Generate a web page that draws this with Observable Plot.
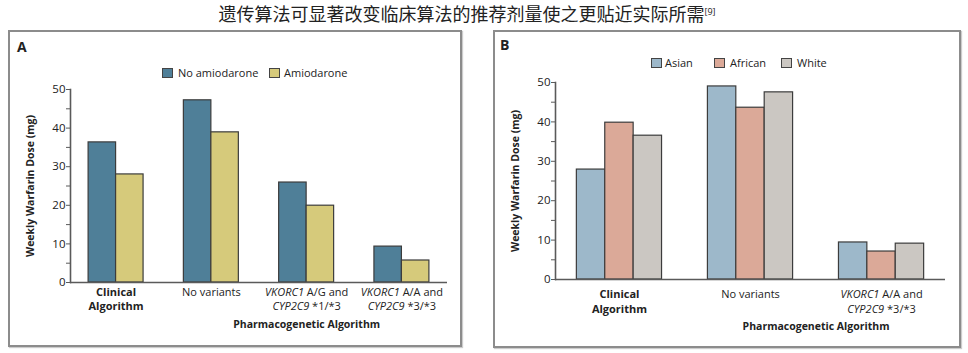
<!DOCTYPE html>
<html><head><meta charset="utf-8">
<script src="https://cdn.jsdelivr.net/npm/d3@7"></script>
<script src="https://cdn.jsdelivr.net/npm/@observablehq/plot@0.6"></script>
<style>
body{margin:0;width:968px;height:353px;position:relative;background:#fff;font-family:"Open Sans",sans-serif;overflow:hidden;color:#222}
.title{position:absolute;left:-17px;top:2px;width:968px;text-align:center;font-family:"Noto Sans CJK SC";font-size:18px;line-height:19px;color:#222}
.title sup{font-size:9px;font-family:"Open Sans";vertical-align:6px}
.box{position:absolute;border:2px solid #8c8c8c;box-sizing:border-box;box-shadow:1px 1px 1px #ccc}
.letter{position:absolute;font-weight:bold;font-size:14px;line-height:14px}
.lg{position:absolute;font-size:11px;line-height:14px;white-space:nowrap}
.sw{position:absolute;width:11px;height:10px;box-sizing:border-box;border:1px solid #444}
.chart{position:absolute}
</style></head><body>
<div class="title">遗传算法可显著改变临床算法的推荐剂量使之更贴近实际所需<sup>[9]</sup></div>
<div id="root"></div>
<script>
// ---- data ----
const groupsA = ["Clinical\nAlgorithm", "No variants", "VKORC1 A/G and\nCYP2C9 *1/*3", "VKORC1 A/A and\nCYP2C9 *3/*3"];
const seriesA = ["No amiodarone", "Amiodarone"];
const noAmiodarone = [36.3, 47.2, 25.9, 9.3];
const amiodarone = [28.0, 38.9, 19.9, 5.7];
const colorsA = ["#4f7f98", "#d6ca7b"];

const groupsB = ["Clinical\nAlgorithm", "No variants", "VKORC1 A/A and\nCYP2C9 *3/*3"];
const seriesB = ["Asian", "African", "White"];
const asian = [27.9, 49.0, 9.4];
const african = [39.8, 43.6, 7.1];
const white = [36.5, 47.5, 9.1];
const colorsB = ["#9db8ca", "#dba998", "#cbc7c2"];

const yTicks = [0, 5, 10, 15, 20, 25, 30, 35, 40, 45, 50];
const yLabel = "Weekly Warfarin Dose (mg)";
const xTitle = "Pharmacogenetic Algorithm";
const panelLetters = ["A", "B"];

const root = document.getElementById("root");
const svgns = "http://www.w3.org/2000/svg";

function styleLabels(svg) {
  svg.querySelectorAll('g[aria-label="x-axis tick label"] text').forEach(textEl => {
    const tsp = [...textEl.querySelectorAll("tspan")];
    const lines = tsp.length ? tsp : [textEl];
    lines.forEach(el => {
      const s = el.textContent;
      if (/Clinical|Algorithm/.test(s)) { el.setAttribute("font-weight", "bold"); return; }
      const parts = s.split(/(VKORC1|CYP2C9)/);
      if (parts.length > 1) {
        el.textContent = "";
        parts.forEach(p => {
          if (!p) return;
          const t = document.createElementNS(svgns, "tspan");
          if (p === "VKORC1" || p === "CYP2C9") t.setAttribute("font-style", "italic");
          t.textContent = p;
          el.appendChild(t);
        });
      }
    });
  });
}

function panel(cfg) {
  const box = document.createElement("div");
  box.className = "box";
  Object.assign(box.style, {left: cfg.box[0] + "px", top: cfg.box[1] + "px", width: cfg.box[2] + "px", height: cfg.box[3] + "px"});
  root.appendChild(box);

  const letter = document.createElement("div");
  letter.className = "letter";
  letter.textContent = cfg.letter;
  Object.assign(letter.style, {left: cfg.letterPos[0] + "px", top: cfg.letterPos[1] + "px"});
  root.appendChild(letter);

  cfg.series.forEach((s, i) => {
    const sw = document.createElement("div");
    sw.className = "sw";
    Object.assign(sw.style, {left: cfg.legend[i][0] + "px", top: (cfg.legendY - 5) + "px", background: cfg.colors[i]});
    root.appendChild(sw);
    const t = document.createElement("div");
    t.className = "lg";
    t.textContent = s;
    Object.assign(t.style, {left: cfg.legend[i][1] + "px", top: (cfg.legendY - 7) + "px"});
    root.appendChild(t);
  });

  const {width, height, mt, mb, ml, mr} = cfg;
  const xOpts = {type: "band", domain: cfg.groups, range: [ml, width - mr], paddingInner: cfg.pi, paddingOuter: cfg.po, align: 0.5, round: false};
  const xs = Plot.scale({x: xOpts});
  const n = cfg.series.length;
  const sub = xs.bandwidth / n;
  const rows = cfg.series.flatMap((s, si) => cfg.groups.map((g, gi) => ({group: g, series: s, value: cfg.values[si][gi]})));
  const mid = (xs.apply(cfg.groups[cfg.titleSpan[0]]) + xs.apply(cfg.groups[cfg.titleSpan[1]])) / 2 + xs.bandwidth / 2;

  const marks = [];
  cfg.series.forEach((s, si) => {
    marks.push(Plot.barY(rows.filter(r => r.series === s), {
      x: "group", y: "value", fill: cfg.colors[si], stroke: "#3c3c3c", strokeWidth: 1.2,
      insetLeft: si * sub, insetRight: (n - 1 - si) * sub
    }));
  });
  marks.push(
    Plot.ruleY([0], {stroke: "#5a5a5a", strokeWidth: 1.6}),
    Plot.frame({anchor: "left", stroke: "#5a5a5a", strokeWidth: 1.6}),
    Plot.axisY({ticks: yTicks, tickFormat: d => d % 10 === 0 ? d : "", tickSize: 4, tickPadding: 1, stroke: "#5a5a5a", fontSize: 11.5, label: null}),
    Plot.axisX({tickSize: 0, tickPadding: cfg.tickPad, fontSize: 11, lineHeight: cfg.lh, label: null}),
    Plot.text([yLabel], {text: d => d, frameAnchor: "left", textAnchor: "middle", rotate: -90, dx: -40, fontWeight: "bold", fontSize: 10.5}),
    Plot.text([xTitle], {text: d => d, frameAnchor: "bottom-left", textAnchor: "middle", dx: mid - ml, dy: cfg.titleDy, fontWeight: "bold", fontSize: 10.5})
  );

  const svg = Plot.plot({
    width, height, marginTop: mt, marginBottom: mb, marginLeft: ml, marginRight: mr,
    style: {fontFamily: "Open Sans", fontSize: "11px", color: "#222", background: "transparent"},
    x: {...xOpts, label: null, axis: null},
    y: {domain: [0, 50], label: null, axis: null},
    marks
  });
  styleLabels(svg);
  const wrap = document.createElement("div");
  wrap.className = "chart";
  Object.assign(wrap.style, {left: cfg.pos[0] + "px", top: cfg.pos[1] + "px"});
  wrap.appendChild(svg);
  root.appendChild(wrap);
}

panel({
  letter: panelLetters[0], box: [8, 30, 454, 317], letterPos: [17, 40],
  series: seriesA, colors: colorsA, groups: groupsA, values: [noAmiodarone, amiodarone],
  legend: [[162, 178], [269, 284]], legendY: 73,
  pos: [8, 30], width: 453, height: 317, mt: 59, mb: 65, ml: 62, mr: 14, pi: 0.423, po: 0.19,
  tickPad: 4, lh: 1.27, titleSpan: [1, 3], titleDy: 45
});
panel({
  letter: panelLetters[1], box: [493, 30, 468, 318], letterPos: [500, 38],
  series: seriesB, colors: colorsB, groups: groupsB, values: [asian, african, white],
  legend: [[651, 665], [714, 730], [781, 797]], legendY: 63,
  pos: [493, 30], width: 467, height: 317, mt: 52, mb: 68, ml: 62, mr: 15, pi: 0.35, po: 0.163,
  tickPad: 8, lh: 1.36, titleSpan: [1, 2], titleDy: 50
});
</script>
</body></html>
